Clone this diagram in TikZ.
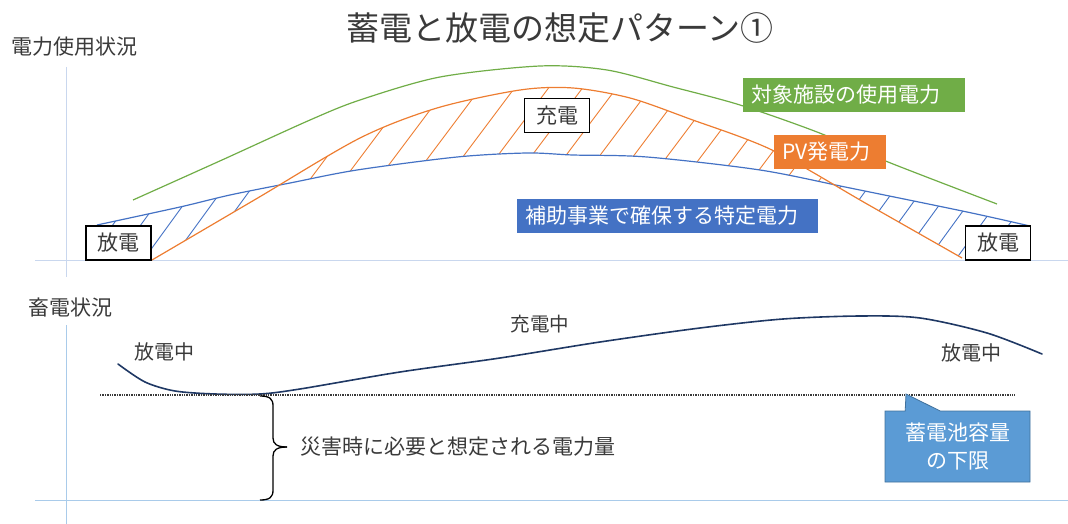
\documentclass[tikz,border=0pt]{standalone}
\usepackage{fontspec}
\setmainfont{Noto Sans CJK JP}
\usetikzlibrary{shapes.callouts}
\definecolor{ogreen}{HTML}{70AD47}
\definecolor{oorange}{HTML}{ED7D31}
\definecolor{oblue}{HTML}{4472C4}
\definecolor{lblue}{HTML}{5B9BD5}
\definecolor{lbluedark}{HTML}{41719C}
\definecolor{navy}{HTML}{1F3864}
\definecolor{txtgray}{HTML}{3A3A3A}
\definecolor{axtop}{HTML}{C9D7EE}
\definecolor{axbot}{HTML}{A9CBEA}
\begin{document}
\begin{tikzpicture}[x=1pt,y=-1pt,
  txt/.style={text=txtgray, font=\fontsize{21}{25}\selectfont, inner sep=0pt},
  wbox/.style={draw=black, fill=white, line width=1.1pt, text=txtgray,
    font=\fontsize{21}{25}\selectfont, minimum width=65, minimum height=34, inner sep=0pt},
  lbl/.style={text=white, font=\fontsize{21}{25}\selectfont, inner xsep=8pt,
    inner ysep=0pt, minimum height=34, align=left},
  curve/.style={line width=1.2pt, line join=round},
  hatch/.style={line width=0.9pt},
  axisline/.style={line width=1pt}
]
\useasboundingbox (0,0) rectangle (1068,524);

% ---------- titles ----------
\node[txt, font=\fontsize{33}{37}\selectfont] (title) at (560,28) {蓄電と放電の想定パターン①};
\node[txt, anchor=west] (ylab1) at (11,47) {電力使用状況};
\node[txt, anchor=west] (ylab2) at (28,308) {畜電状況};

% ---------- axes ----------
\draw[axisline, axtop] (66,67) -- (66,277);
\draw[axisline, axtop] (35,260) -- (1068,260);
\draw[axisline, axbot] (66,325) -- (66,524);
\draw[axisline, axbot] (35,500) -- (1068,500);

% ---------- hatch: orange region (PV above specific power) ----------
\begin{scope}
  \clip plot[smooth] coordinates {(152,260) (256,199) (360,138) (437,108) (520,90) (573,88) (630,98) (690,119) (772,150) (867,204) (962,258)}
        -- (962,600) -- (152,600) -- cycle;
  \clip plot[smooth] coordinates {(97,225) (180,207) (230,195) (290,183) (357,170) (457,157) (527,153) (573,155) (647,157) (760,170) (850,188) (967,212) (1030,226)}
        -- (1030,0) -- (97,0) -- cycle;
  \foreach \x in {-200,-166,...,1100}
    \draw[hatch, oorange] (\x,270) -- ({\x+165},50);
\end{scope}

% ---------- hatch: blue regions (discharge) ----------
\begin{scope}
  \clip plot[smooth] coordinates {(97,225) (180,207) (230,195) (290,183) (357,170) (457,157) (527,153) (573,155) (647,157) (760,170) (850,188) (967,212) (1030,226)}
        -- (1030,260) -- (97,260) -- cycle;
  \clip (0,260) -- plot[smooth] coordinates {(152,260) (256,199) (360,138) (437,108) (520,90) (573,88) (630,98) (690,119) (772,150) (867,204) (962,258)}
        -- (1068,258) -- (1068,0) -- (0,0) -- cycle;
  \foreach \x in {-200,-172,...,1100}
    \draw[hatch, oblue] (\x,270) -- ({\x+160},50);
\end{scope}

% ---------- curves ----------
\draw[curve, ogreen] plot[smooth] coordinates {(133,200) (222,160) (310,120) (360,100) (440,77) (540,66) (607,70) (673,87) (740,105) (817,132) (888,162) (997,204)};
\draw[curve, oblue] plot[smooth] coordinates {(97,225) (180,207) (230,195) (290,183) (357,170) (457,157) (527,153) (573,155) (647,157) (760,170) (850,188) (967,212) (1030,226)};
\draw[curve, oorange] plot[smooth] coordinates {(152,260) (256,199) (360,138) (437,108) (520,90) (573,88) (630,98) (690,119) (772,150) (867,204) (962,258)};

% ---------- labels ----------
\node[lbl, fill=ogreen, text width=206, anchor=west] (lgreen) at (743,95) {対象施設の使用電力};
\node[lbl, fill=oorange, text width=96, anchor=west] (lpv) at (774,152) {PV発電力};
\node[lbl, fill=oblue, text width=285, anchor=west] (lblue) at (517,216) {補助事業で確保する特定電力};
\node[wbox] (charge) at (557,115.5) {充電};
\node[wbox] (disL) at (118.5,243) {放電};
\node[wbox] (disR) at (998,243) {放電};

% ---------- lower part ----------
\draw[line width=1.6pt, navy, line cap=round] plot[smooth] coordinates {(118,364) (145,382) (175,391) (215,394) (260,394) (300,389) (400,372) (500,358) (600,342) (700,328) (783,319) (860,316) (920,318) (987,333) (1042,354)};
\draw[line width=1.4pt, txtgray, densely dotted] (100,395) -- (1015,395);

\node[txt, font=\fontsize{20}{24}\selectfont] (dl) at (164,352) {放電中};
\node[txt, font=\fontsize{19.5}{24}\selectfont] (cm) at (540,324) {充電中};
\node[txt, font=\fontsize{20}{24}\selectfont] (dr) at (971,353) {放電中};

% brace
\draw[line width=1.3pt, black] (260,396) .. controls (270,396) and (273,399) .. (273,406) -- (273,438)
   .. controls (273,444) and (277,447) .. (287,447);
\draw[line width=1.3pt, black] (287,447) .. controls (277,447) and (273,450) .. (273,456) -- (273,490)
   .. controls (273,497) and (270,500) .. (260,500);
\node[txt, anchor=west] (need) at (300,447) {災害時に必要と想定される電力量};

% callout
\node[rectangle callout, callout absolute pointer={(906,394)}, callout pointer width=35pt,
  fill=lblue, draw=lbluedark, line width=0.8pt, text=white,
  font=\fontsize{21}{28}\selectfont, align=center, minimum width=145, minimum height=71, inner sep=0pt]
  (lower) at (957.5,446.5) {蓄電池容量\\の下限};
\end{tikzpicture}
\end{document}
